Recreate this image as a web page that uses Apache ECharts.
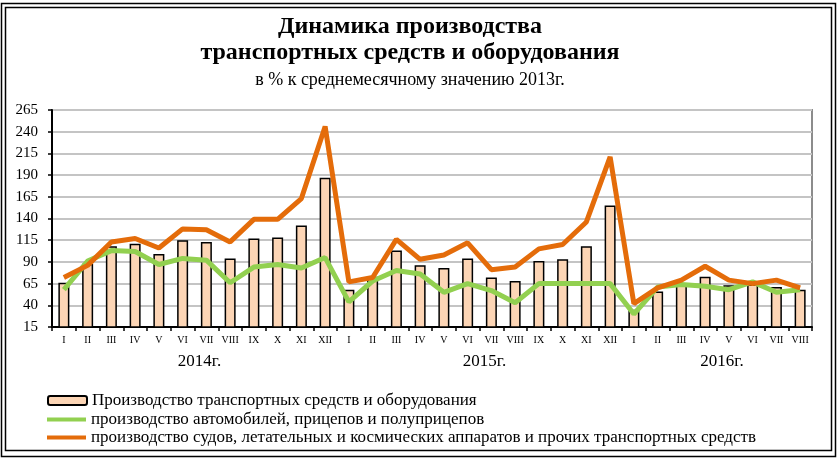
<!DOCTYPE html>
<html>
<head>
<meta charset="utf-8">
<script src="https://cdn.jsdelivr.net/npm/echarts@6/dist/echarts.min.js"></script>
<style>
html,body{margin:0;padding:0;background:#fff}
#chart{width:838px;height:459px}
</style>
</head>
<body>
<div id="chart"></div>
<script>
var months = ['I','II','III','IV','V','VI','VII','VIII','IX','X','XI','XII',
              'I','II','III','IV','V','VI','VII','VIII','IX','X','XI','XII',
              'I','II','III','IV','V','VI','VII','VIII'];
var years = ['2014г.', '2015г.', '2016г.'];
// first and last month index of each year
var yearSpans = [[0, 11], [12, 23], [24, 31]];

// в % к среднемесячному значению 2013г.
var total = [66, 88, 108, 111, 99, 115, 113, 94, 117, 118, 132, 187,
             58, 73, 103, 86, 83, 94, 72, 68, 91, 93, 108, 155,
             35, 56, 63, 73, 63, 64, 61, 58];
var autos = [58, 91, 103, 102, 87, 94, 92, 66, 84, 87, 83, 95,
             44, 68, 80, 76, 55, 65, 57, 43, 65, 65, 65, 65,
             30, 61, 64, 62, 58, 67, 55, 58];
var other = [72, 86, 113, 117, 106, 128, 127, 113, 139, 139, 163, 246,
             67, 72, 116, 93, 98, 112, 81, 84, 105, 110, 136, 211,
             42, 60, 69, 85, 69, 65, 69, 60];

var names = ['Производство транспортных средств и оборудования',
             'производство автомобилей, прицепов и полуприцепов',
             'производство судов, летательных и космических аппаратов и прочих транспортных средств'];

var serif = '"Liberation Serif", "DejaVu Serif", serif';

var myChart = echarts.init(document.getElementById('chart'));

var option = {
  animation: false,
  textStyle: { fontFamily: serif, color: '#000' },
  title: [
    {
      text: 'Динамика производства\nтранспортных средств и оборудования',
      left: 405, top: 9, textAlign: 'center',
      textStyle: { fontFamily: serif, fontSize: 24, fontWeight: 'bold', color: '#000', lineHeight: 26 }
    },
    {
      text: 'в % к среднемесячному значению 2013г.',
      left: 405, top: 66, textAlign: 'center',
      textStyle: { fontFamily: serif, fontSize: 18, fontWeight: 'normal', color: '#000' }
    }
  ],
  grid: {
    left: 52, right: 26, top: 110, bottom: 132,
    show: true, borderColor: '#8c8c8c', borderWidth: 2, backgroundColor: 'transparent'
  },
  legend: [
    {
      data: [{ name: names[0], icon: 'roundRect' }],
      left: 42, top: 387, itemWidth: 39, itemHeight: 9, itemGap: 0,
      textStyle: { fontFamily: serif, fontSize: 17, color: '#000' }
    },
    {
      data: [names[1], names[2]],
      orient: 'vertical',
      left: 42, top: 406, itemWidth: 39, itemHeight: 4, itemGap: 1,
      icon: 'rect',
      textStyle: { fontFamily: serif, fontSize: 17, color: '#000' }
    }
  ],
  xAxis: {
    type: 'category',
    data: months,
    boundaryGap: true,
    axisLine: { lineStyle: { color: '#000', width: 2 } },
    axisTick: { show: true, length: 4, lineStyle: { color: '#000', width: 1.5 } },
    axisLabel: { interval: 0, fontSize: 10, color: '#000', margin: 8, fontFamily: serif }
  },
  yAxis: {
    type: 'value',
    min: 15, max: 265, interval: 25,
    axisLine: { show: true, lineStyle: { color: '#000', width: 2 } },
    axisTick: { show: true, length: 4, lineStyle: { color: '#000', width: 1.5 } },
    axisLabel: { fontSize: 15, color: '#000', margin: 14, fontFamily: serif },
    splitLine: { lineStyle: { color: '#c4c4c4', width: 2 } }
  },
  series: [
    {
      name: names[0],
      type: 'bar',
      data: total,
      barWidth: 11,
      itemStyle: { color: '#fcd5b5', borderColor: '#000', borderWidth: 1.5 }
    },
    {
      name: names[1],
      type: 'line',
      data: autos,
      symbol: 'none',
      lineStyle: { color: '#92d050', width: 5 },
      itemStyle: { color: '#92d050' }
    },
    {
      name: names[2],
      type: 'line',
      data: other,
      symbol: 'none',
      lineStyle: { color: '#e46c0a', width: 5 },
      itemStyle: { color: '#e46c0a' }
    }
  ]
};

myChart.setOption(option);

// year captions under the month labels + double frame
var graphics = [
  { type: 'rect', shape: { x: 1.5, y: 3.5, width: 834, height: 453 },
    style: { fill: 'none', stroke: '#000', lineWidth: 1.5 }, silent: true },
  { type: 'rect', shape: { x: 5.5, y: 7.5, width: 826, height: 443 },
    style: { fill: 'none', stroke: '#000', lineWidth: 1.5 }, silent: true }
];
yearSpans.forEach(function (s, i) {
  var a = myChart.convertToPixel({ xAxisIndex: 0 }, s[0]);
  var b = myChart.convertToPixel({ xAxisIndex: 0 }, s[1]);
  graphics.push({
    type: 'text', x: (a + b) / 2 + 5, y: 362, silent: true,
    style: { text: years[i], fontFamily: serif, fontSize: 17, fill: '#000', align: 'center', verticalAlign: 'middle' }
  });
});
myChart.setOption({ graphic: graphics });
</script>
</body>
</html>
